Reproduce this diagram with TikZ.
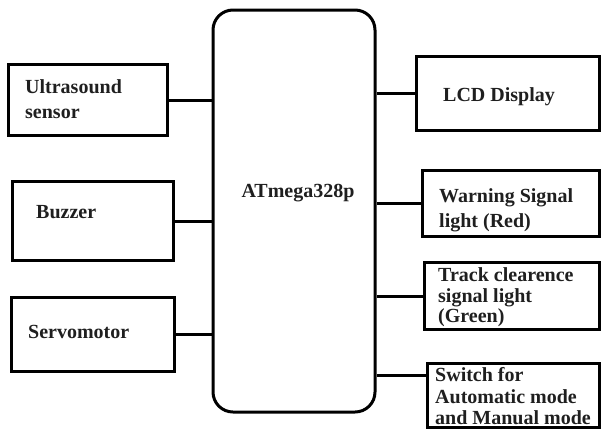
\documentclass[tikz,border=0pt]{standalone}
\usepackage{fontspec}
\setmainfont{Liberation Serif}
\begin{document}
\begin{tikzpicture}[x=1pt,y=-1pt,
  blk/.style={draw=black,line width=3pt,rectangle,inner sep=0pt},
  txt/.style={font=\fontsize{20}{23}\selectfont\bfseries,text=black!88,inner sep=0pt,align=left,anchor=west},
  wire/.style={line width=3pt}]
\useasboundingbox (0,0) rectangle (601,429);
% central controller
\node[blk,rounded corners=20pt,minimum width=162pt,minimum height=402pt] (mcu) at (294,211) {};
\node[txt,anchor=center] (mcut) at (298,193) {ATmega328p};
% left blocks
\node[blk,minimum width=159pt,minimum height=71pt] (us) at (87.5,100) {};
\node[txt,font=\fontsize{20}{25}\selectfont\bfseries] (ust) at (25,99.5) {Ultrasound\\sensor};
\node[blk,minimum width=161pt,minimum height=79pt] (bz) at (92.5,221) {};
\node[txt] (bzt) at (36,212) {Buzzer};
\node[blk,minimum width=163pt,minimum height=74pt] (sv) at (92.5,334) {};
\node[txt] (svt) at (28,332) {Servomotor};
% right blocks
\node[blk,minimum width=183pt,minimum height=74pt] (lcd) at (507.5,93) {};
\node[txt] (lcdt) at (443,97) {LCD Display};
\node[blk,minimum width=177pt,minimum height=66pt] (wr) at (510.5,203) {};
\node[txt,font=\fontsize{20}{25}\selectfont\bfseries] (wrt) at (439,210.5) {Warning Signal\\light (Red)};
\node[blk,minimum width=175pt,minimum height=67pt] (tr) at (511.5,296) {};
\node[txt,font=\fontsize{20}{20.5}\selectfont\bfseries] (trt) at (438,297.5) {Track clearence\\signal light\\(Green)};
\node[blk,minimum width=172pt,minimum height=64pt,anchor=north] (sw) at (513,362) {};
\node[txt,font=\fontsize{20}{21.5}\selectfont\bfseries] (swt) at (435,396.5) {Switch for\\Automatic mode\\and Manual mode};
% connectors
\draw[wire] (us.east) -- (us.east -| mcu.west);
\draw[wire] (bz.east) -- (bz.east -| mcu.west);
\draw[wire] (sv.east) -- (sv.east -| mcu.west);
\draw[wire] (lcd.west) -- (lcd.west -| mcu.east);
\draw[wire] (wr.west) -- (wr.west -| mcu.east);
\draw[wire] (tr.west) -- (tr.west -| mcu.east);
\draw[wire] ([yshift=20pt]sw.west) -- ([yshift=20pt]sw.west -| mcu.east);
\end{tikzpicture}
\end{document}
